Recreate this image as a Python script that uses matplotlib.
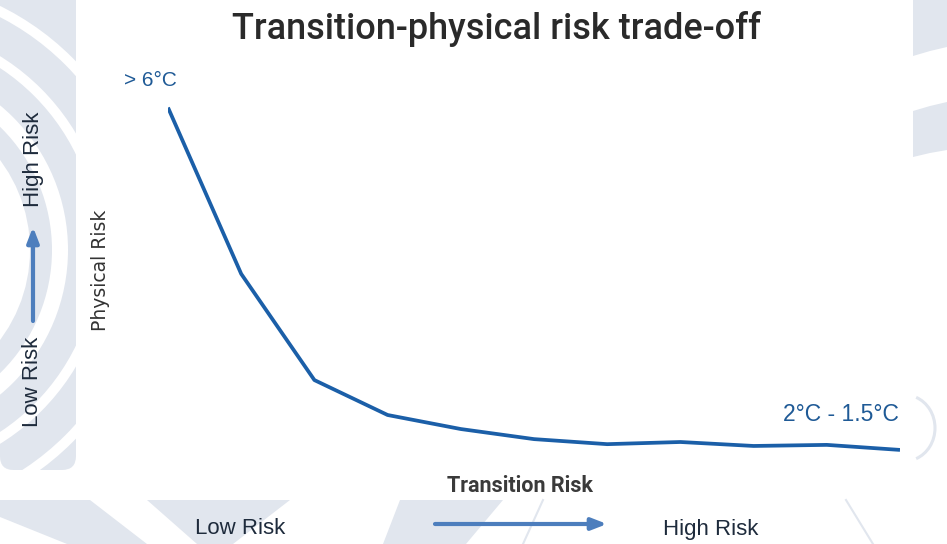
import numpy as np
import matplotlib.pyplot as plt
from matplotlib import font_manager
from matplotlib.patches import Rectangle, Circle, Polygon, Arc, FancyBboxPatch

# transition-risk steps (left to right) and physical risk index for each step
transition_step = [0, 1, 2, 3, 4, 5, 6, 7, 8, 9, 10]
physical_risk = [97.9, 51.7, 22.2, 12.5, 8.6, 5.8, 4.4, 5.0, 3.9, 4.2, 2.8]

title = "Transition-physical risk trade-off"
start_label = "> 6°C"
end_label = "2°C - 1.5°C"
x_title = "Transition Risk"
y_title = "Physical Risk"
low_label = "Low Risk"
high_label = "High Risk"


def pick(*names):
    avail = {f.name for f in font_manager.fontManager.ttflist}
    for n in names:
        if n in avail:
            return n
    return "DejaVu Sans"


din = pick("Roboto", "Open Sans", "DejaVu Sans")
helv = pick("Liberation Sans", "DejaVu Sans")
verd = pick("DejaVu Sans")

W, H = 947, 544
fig = plt.figure(figsize=(W / 100, H / 100), dpi=100)
fig.patch.set_facecolor("white")

# background watermark, drawn in pixel units
bg = fig.add_axes([0, 0, 1, 1], zorder=0)
bg.set_xlim(0, W)
bg.set_ylim(H, 0)
bg.axis("off")
grey = "#e1e6ee"

strip = FancyBboxPatch((0, -20), 76, 490, boxstyle="round,pad=0,rounding_size=14",
                       facecolor=grey, edgecolor="none")
bg.add_patch(strip)
cx, cy = -120, 250
for r_out, r_in in [(272, 262), (228, 218), (188, 172), (150, 0)]:
    ring = Circle((cx, cy), r_out, facecolor="white", edgecolor="none")
    bg.add_patch(ring)
    ring.set_clip_path(strip)
    if r_in > 0:
        inner = Circle((cx, cy), r_in, facecolor=grey, edgecolor="none")
        bg.add_patch(inner)
        inner.set_clip_path(strip)

# right-hand bands
bg.add_patch(Polygon([(913, 0), (947, 0), (947, 47), (930, 51), (913, 56)],
                     facecolor=grey, edgecolor="none"))
bg.add_patch(Polygon([(913, 111), (930, 106), (947, 102), (947, 150), (930, 153), (913, 157)],
                     facecolor=grey, edgecolor="none"))
bg.add_patch(Arc((905, 428), 60, 66, theta1=-70, theta2=70, color=grey, lw=2.2))

# bottom shapes
for pts in [
    [(0, 500), (90, 500), (147, 544), (67, 544), (0, 517)],
    [(147, 500), (290, 500), (233, 544), (197, 544)],
    [(400, 500), (503, 500), (466, 544), (383, 544)],
]:
    bg.add_patch(Polygon(pts, facecolor=grey, edgecolor="none"))
bg.plot([543, 523], [500, 544], color=grey, lw=1.5)
bg.plot([846, 873], [500, 544], color=grey, lw=1.5)

# the trade-off curve
ax = fig.add_axes([168 / W, 1 - 460 / H, (900 - 168) / W, 360 / H], zorder=2)
ax.patch.set_alpha(0)
ax.plot(transition_step, physical_risk, color="#1b5fa8", lw=2.7,
        solid_capstyle="butt", solid_joinstyle="round")
ax.set_xlim(0, 10)
ax.set_ylim(0, 100)
ax.axis("off")

blue = "#1f5a96"
ax.annotate(start_label, (transition_step[0], physical_risk[0]), xytext=(-32, 13),
            textcoords="offset points", color=blue, fontsize=15, family=helv,
            ha="left", va="bottom")
ax.annotate(end_label, (transition_step[-1], physical_risk[-1]), xytext=(-1, 17),
            textcoords="offset points", color=blue, fontsize=16.5, family=helv,
            ha="right", va="bottom")


def fx(px):
    return px / W


def fy(py):
    return 1 - py / H


fig.text(fx(496), fy(29), title, ha="center", va="center", fontsize=26,
         family=din, weight="medium", color="#2a2a2a")
fig.text(fx(520), fy(486), x_title, ha="center", va="center", fontsize=15.5,
         family=din, weight="bold", color="#3a3a3a")
fig.text(fx(100), fy(270), y_title, ha="center", va="center", fontsize=13.5,
         family=verd, rotation=90, color="#333333")

navy = "#1e2b3c"
fig.text(fx(240), fy(529), low_label, ha="center", va="center", fontsize=16,
         family=helv, color=navy)
fig.text(fx(711), fy(529), high_label, ha="center", va="center", fontsize=16,
         family=helv, color=navy)
fig.text(fx(33), fy(382), low_label, ha="center", va="center", fontsize=16,
         family=helv, color=navy, rotation=90)
fig.text(fx(33), fy(159), high_label, ha="center", va="center", fontsize=16,
         family=helv, color=navy, rotation=90)

arrow_col = "#4d7ebd"
bg.annotate("", xy=(607, 524), xytext=(435, 524),
            arrowprops=dict(arrowstyle="-|>,head_length=0.9,head_width=0.35",
                            color=arrow_col, lw=3, shrinkA=0, shrinkB=0))
bg.annotate("", xy=(33, 227), xytext=(33, 321),
            arrowprops=dict(arrowstyle="-|>,head_length=0.9,head_width=0.35",
                            color=arrow_col, lw=3, shrinkA=0, shrinkB=0))

fig.savefig("out.png", dpi=100, facecolor="white")
